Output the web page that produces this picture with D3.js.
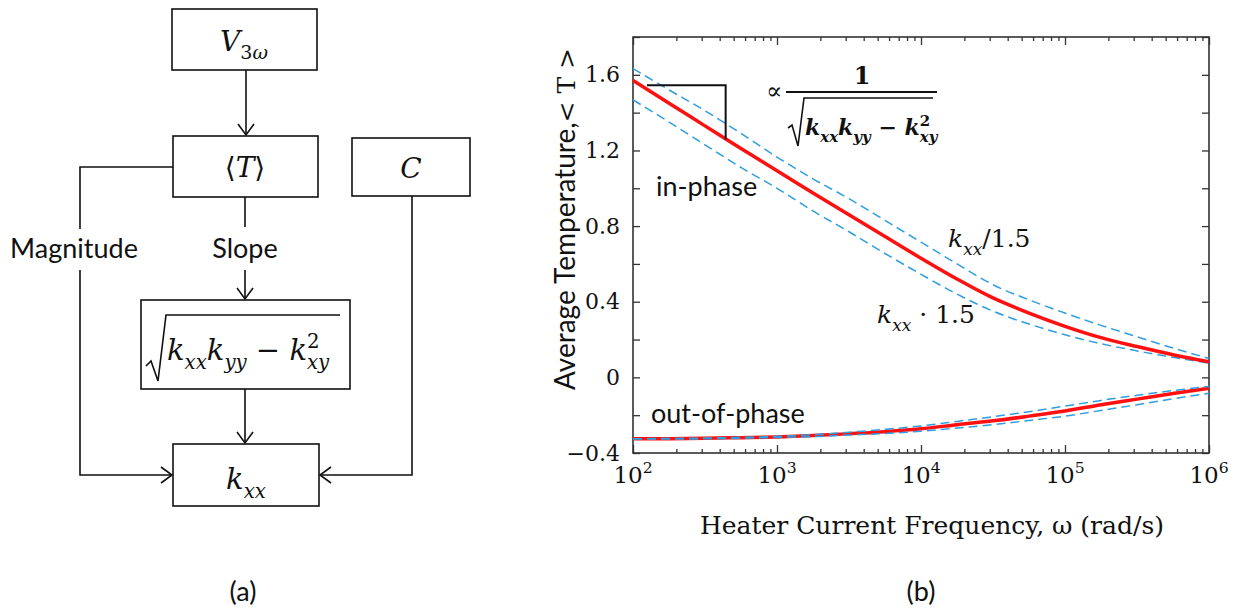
<!DOCTYPE html>
<html>
<head>
<meta charset="utf-8">
<script src="https://cdn.jsdelivr.net/npm/d3@7"></script>
<style>
  html, body { margin: 0; padding: 0; background: #fff; }
  svg { display: block; }
  .sans { font-family: Lato, "Open Sans", sans-serif; }
  .serif { font-family: "DejaVu Serif", serif; }
</style>
</head>
<body>
<script>
// Heater frequency samples (rad/s) and the simulated average temperature
const omega = [100, 178, 316, 562, 1000, 1778, 3162, 5623, 10000, 17783, 31623, 56234, 100000, 177828, 316228, 562341, 1000000];

// in-phase response: nominal, k_xx/1.5 and k_xx*1.5
const inPhase      = [1.570, 1.450, 1.330, 1.210, 1.093, 0.975, 0.860, 0.745, 0.630, 0.520, 0.420, 0.340, 0.270, 0.210, 0.163, 0.120, 0.083];
const inPhaseKDiv  = [1.633, 1.520, 1.410, 1.290, 1.165, 1.050, 0.945, 0.830, 0.715, 0.600, 0.490, 0.410, 0.340, 0.275, 0.215, 0.155, 0.100];
const inPhaseKMul  = [1.468, 1.350, 1.230, 1.110, 1.000, 0.880, 0.770, 0.655, 0.545, 0.440, 0.350, 0.282, 0.225, 0.178, 0.140, 0.106, 0.075];

// out-of-phase response
const outPhase     = [-0.325, -0.324, -0.322, -0.319, -0.315, -0.308, -0.298, -0.287, -0.272, -0.250, -0.230, -0.205, -0.178, -0.145, -0.115, -0.085, -0.058];
const outPhaseKDiv = [-0.325, -0.323, -0.321, -0.317, -0.312, -0.303, -0.290, -0.275, -0.257, -0.233, -0.208, -0.182, -0.152, -0.122, -0.095, -0.070, -0.048];
const outPhaseKMul = [-0.326, -0.326, -0.325, -0.322, -0.318, -0.313, -0.305, -0.297, -0.285, -0.268, -0.250, -0.228, -0.205, -0.175, -0.145, -0.113, -0.084];

// axis ticks
const xMajorTicks = [1e2, 1e3, 1e4, 1e5, 1e6];
const xTickExponents = ["2", "3", "4", "5", "6"];
const yTicks = [-0.4, -0.2, 0, 0.2, 0.4, 0.6, 0.8, 1.0, 1.2, 1.4, 1.6, 1.8];
const yTickLabels = [-0.4, 0, 0.4, 0.8, 1.2, 1.6];

// slope marker on the in-phase curve: [omega start, omega end], [T top, T bottom]
const slopeOmega = [125, 440];
const slopeT = [1.545, 1.258];

const W = 1237, H = 611;
const svg = d3.select("body").append("svg").attr("width", W).attr("height", H);
svg.append("rect").attr("width", W).attr("height", H).attr("fill", "#fff");

// ---------- helpers ----------
// math-style text built from parts: {t, i (italic), b (bold), sub, sup, supsub:[sup, sub]}
function mathText(g, x, y, parts, size, anchor) {
  const t = g.append("text").attr("x", x).attr("y", y)
    .attr("class", "serif").attr("font-size", size)
    .attr("text-anchor", anchor || "start").attr("fill", "#111");
  let shift = 0;
  const style = (s, p) => {
    if (p.i) s.attr("font-style", "italic");
    if (p.b) s.attr("font-weight", "bold");
  };
  parts.forEach(p => {
    if (p.supsub) {
      // superscript and subscript stacked on the same glyph
      const up = -size * 0.42, dn = size * 0.3, fs = size * 0.68;
      const s1 = t.append("tspan").text(p.supsub[0]).attr("dy", up - shift).attr("font-size", fs);
      style(s1, p);
      const w1 = s1.node().getComputedTextLength();
      const s2 = t.append("tspan").text(p.supsub[1]).attr("dy", dn - up).attr("dx", -w1).attr("font-size", fs);
      style(s2, p);
      if (p.subItalic) s2.attr("font-style", "italic");
      shift = dn;
      return;
    }
    let target = 0, fs = size;
    if (p.sub) { target = size * 0.3; fs = size * 0.68; }
    if (p.sup) { target = -size * 0.42; fs = size * 0.68; }
    const s = t.append("tspan").text(p.t)
      .attr("dy", target - shift)
      .attr("font-size", fs);
    style(s, p);
    shift = target;
  });
  return t;
}

function arrowHead(g, x, y, dir) {
  // open chevron, tip at (x,y); dir: "down", "right", "left"
  const L = 11, w = 8;
  let pts;
  if (dir === "down") pts = [[x - w, y - L], [x, y], [x + w, y - L]];
  else if (dir === "right") pts = [[x - L, y - w], [x, y], [x - L, y + w]];
  else pts = [[x + L, y - w], [x, y], [x + L, y + w]];
  g.append("path").attr("d", d3.line()(pts)).attr("fill", "none")
    .attr("stroke", "#111").attr("stroke-width", 1.6);
}

function seg(g, pts, w) {
  g.append("path").attr("d", d3.line()(pts)).attr("fill", "none")
    .attr("stroke", "#111").attr("stroke-width", w || 1.6);
}

function box(g, x0, y0, x1, y1) {
  g.append("rect").attr("x", x0).attr("y", y0).attr("width", x1 - x0).attr("height", y1 - y0)
    .attr("fill", "#fff").attr("stroke", "#111").attr("stroke-width", 1.6);
}

// ---------- (a) flow diagram ----------
const fa = svg.append("g");
box(fa, 172, 9, 317, 70);
box(fa, 173, 136, 318, 197);
box(fa, 352, 138, 470, 196);
box(fa, 141, 300, 350, 389);
box(fa, 173, 444, 319, 506);

// V3w -> <T>
seg(fa, [[246, 70], [246, 135]]); arrowHead(fa, 246, 135, "down");
// <T> -> Magnitude branch -> k_xx
seg(fa, [[173, 167], [80, 167], [80, 229]]);
seg(fa, [[80, 270], [80, 475], [172, 475]]); arrowHead(fa, 172, 475, "right");
// <T> -> Slope -> sqrt box
seg(fa, [[245, 197], [245, 227]]);
seg(fa, [[245, 270], [245, 299]]); arrowHead(fa, 245, 299, "down");
// sqrt box -> k_xx
seg(fa, [[245, 389], [245, 443]]); arrowHead(fa, 245, 443, "down");
// C -> k_xx
seg(fa, [[412, 196], [412, 475], [320, 475]]); arrowHead(fa, 320, 475, "left");

fa.append("text").attr("class", "sans").attr("x", 74).attr("y", 258)
  .attr("text-anchor", "middle").attr("font-size", 27).attr("fill", "#111").text("Magnitude");
fa.append("text").attr("class", "sans").attr("x", 245).attr("y", 258)
  .attr("text-anchor", "middle").attr("font-size", 27).attr("fill", "#111").text("Slope");

mathText(fa, 244, 51, [{t: "V", i: true}, {t: "3", sub: true}, {t: "ω", sub: true, i: true}], 28, "middle");
mathText(fa, 245, 177, [{t: "⟨"}, {t: "T", i: true}, {t: "⟩"}], 28, "middle");
mathText(fa, 411, 178, [{t: "C", i: true}], 28, "middle");
mathText(fa, 246, 489, [{t: "k", i: true}, {t: "xx", i: true, sub: true}], 29, "middle");

// sqrt(k_xx k_yy - k_xy^2)
seg(fa, [[146, 366], [151, 361], [158, 381], [166, 315], [340, 315]]);
mathText(fa, 167, 360, [
  {t: "k", i: true}, {t: "xx", i: true, sub: true},
  {t: "k", i: true}, {t: "yy", i: true, sub: true},
  {t: " − "}, {t: "k", i: true}, {supsub: ["2", "xy"], subItalic: true},
], 29, "start");

fa.append("text").attr("class", "sans").attr("x", 243).attr("y", 601)
  .attr("text-anchor", "middle").attr("font-size", 27).attr("fill", "#111").text("(a)");

// ---------- (b) temperature vs frequency ----------
const x = d3.scaleLog().domain([1e2, 1e6]).range([633, 1209]);
const y = d3.scaleLinear().domain([-0.4, 1.8]).range([453, 37]);
const fb = svg.append("g");

// minor x ticks 2..9 per decade
const xMinor = [];
xMajorTicks.slice(0, -1).forEach(d => { [2,3,4,5,6,7,8,9].forEach(m => xMinor.push(d * m)); });

function styleAxis(g) {
  g.select(".domain").remove();
  g.selectAll(".tick line").attr("stroke", "#333").attr("stroke-width", 1.3);
}
fb.append("g").attr("transform", `translate(0,${y.range()[0]})`)
  .call(d3.axisBottom(x).tickValues(xMajorTicks).tickSize(-8).tickFormat(""))
  .call(styleAxis);
fb.append("g").attr("transform", `translate(0,${y.range()[0]})`)
  .call(d3.axisBottom(x).tickValues(xMinor).tickSize(-4).tickFormat(""))
  .call(styleAxis);
fb.append("g").attr("transform", `translate(0,${y.range()[1]})`)
  .call(d3.axisTop(x).tickValues(xMajorTicks).tickSize(-8).tickFormat(""))
  .call(styleAxis);
fb.append("g").attr("transform", `translate(0,${y.range()[1]})`)
  .call(d3.axisTop(x).tickValues(xMinor).tickSize(-4).tickFormat(""))
  .call(styleAxis);

const fmtY = d => (d < 0 ? "−" + Math.abs(d).toFixed(1) : (d === 0 ? "0" : d.toFixed(1)));
fb.append("g").attr("transform", `translate(${x.range()[0]},0)`)
  .call(d3.axisLeft(y).tickValues(yTicks).tickSize(-7).tickPadding(13)
    .tickFormat(d => yTickLabels.some(v => Math.abs(v - d) < 1e-9) ? fmtY(d) : ""))
  .call(styleAxis)
  .call(g => g.selectAll(".tick text").attr("class", "serif").attr("font-size", 22)
    .attr("fill", "#111").attr("font-family", null));
fb.append("g").attr("transform", `translate(${x.range()[1]},0)`)
  .call(d3.axisRight(y).tickValues(yTicks).tickSize(-7).tickFormat(""))
  .call(styleAxis);

// frame
fb.append("rect").attr("x", x.range()[0]).attr("y", y.range()[1])
  .attr("width", x.range()[1] - x.range()[0]).attr("height", y.range()[0] - y.range()[1])
  .attr("fill", "none").attr("stroke", "#333").attr("stroke-width", 1.6);

// x tick labels 10^n
xMajorTicks.forEach((d, i) => {
  mathText(fb, x(d), 483, [{t: "10"}, {t: xTickExponents[i], sup: true}], 23, "middle");
});

// curves
const line = (vals) => d3.line().x((d, i) => x(omega[i])).y(d => y(d)).curve(d3.curveMonotoneX)(vals);
const RED = "#ff1010", BLUE = "#2f9ee0";
const curves = fb.append("g");
[inPhaseKDiv, inPhaseKMul].forEach(s => curves.append("path").attr("d", line(s))
  .attr("fill", "none").attr("stroke", BLUE).attr("stroke-width", 1.5).attr("stroke-dasharray", "9,5"));
curves.append("path").attr("d", line(inPhase)).attr("fill", "none")
  .attr("stroke", RED).attr("stroke-width", 3.5);
curves.append("path").attr("d", line(outPhase)).attr("fill", "none")
  .attr("stroke", RED).attr("stroke-width", 3.5);
[outPhaseKDiv, outPhaseKMul].forEach(s => curves.append("path").attr("d", line(s))
  .attr("fill", "none").attr("stroke", BLUE).attr("stroke-width", 1.5).attr("stroke-dasharray", "9,5"));

// slope marker
seg(fb, [[x(slopeOmega[0]), y(slopeT[0])], [x(slopeOmega[1]), y(slopeT[0])], [x(slopeOmega[1]), y(slopeT[1])]], 2);

// proportionality annotation: ∝ 1 / sqrt(k_xx k_yy - k_xy^2)
fb.append("text").attr("class", "serif").attr("x", 774).attr("y", 99)
  .attr("text-anchor", "middle").attr("font-size", 24).attr("fill", "#111").text("∝");
seg(fb, [[786, 92], [937, 92]], 2);
mathText(fb, 862, 84, [{t: "1", b: true}], 24, "middle");
seg(fb, [[788, 128], [792, 125], [798, 146], [804, 98], [933, 98]], 1.6);
mathText(fb, 805, 135, [
  {t: "k", i: true, b: true}, {t: "xx", i: true, b: true, sub: true},
  {t: "k", i: true, b: true}, {t: "yy", i: true, b: true, sub: true},
  {t: " − ", b: true}, {t: "k", i: true, b: true}, {supsub: ["2", "xy"], b: true, subItalic: true},
], 22, "start");

// series labels
fb.append("text").attr("class", "sans").attr("x", 656).attr("y", 196)
  .attr("font-size", 27).attr("fill", "#111").text("in-phase");
fb.append("text").attr("class", "sans").attr("x", 651).attr("y", 423)
  .attr("font-size", 27).attr("fill", "#111").text("out-of-phase");
mathText(fb, 948, 247, [{t: "k", i: true}, {t: "xx", i: true, sub: true}, {t: "/1.5"}], 25, "start");
mathText(fb, 877, 323, [{t: "k", i: true}, {t: "xx", i: true, sub: true}, {t: " · 1.5"}], 25, "start");

// axis titles
fb.append("text").attr("class", "serif").attr("x", 932).attr("y", 534)
  .attr("text-anchor", "middle").attr("font-size", 25).attr("fill", "#111")
  .text("Heater Current Frequency, ω (rad/s)");
const yt = fb.append("text").attr("transform", "translate(575,219) rotate(-90)")
  .attr("text-anchor", "middle").attr("font-size", 28).attr("fill", "#111");
yt.append("tspan").attr("class", "sans").text("Average Temperature,");
yt.append("tspan").attr("class", "serif").attr("font-size", 25).text("< T >");

fb.append("text").attr("class", "sans").attr("x", 921).attr("y", 601)
  .attr("text-anchor", "middle").attr("font-size", 27).attr("fill", "#111").text("(b)");
</script>
</body>
</html>
